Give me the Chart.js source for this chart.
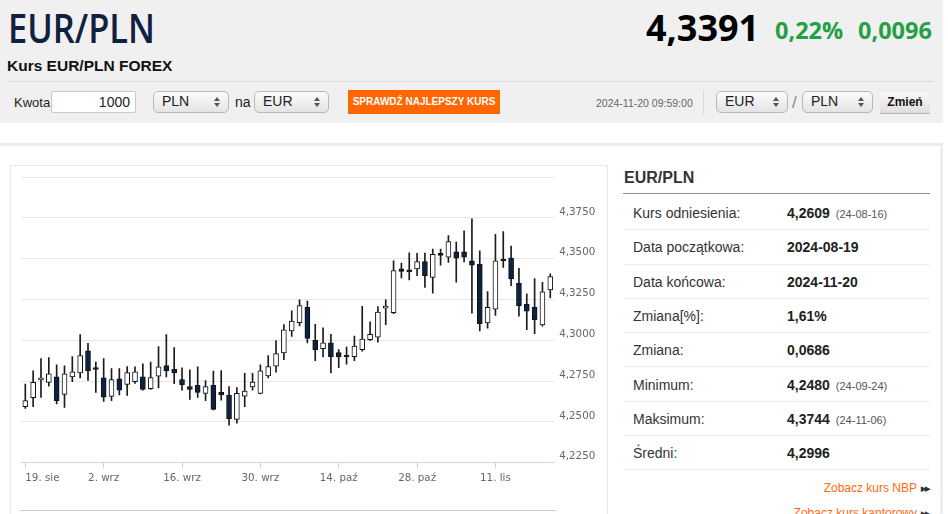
<!DOCTYPE html>
<html lang="pl">
<head>
<meta charset="utf-8">
<title>Kurs EUR/PLN FOREX</title>
<script src="https://cdn.jsdelivr.net/npm/chart.js@4.4.1/dist/chart.umd.min.js"></script>
<style>
  html, body { margin: 0; padding: 0; background: #fff; }
  body { width: 948px; height: 514px; overflow: hidden; position: relative; font-family: "Liberation Sans", Arial, sans-serif; color: #333; }
  .abs { position: absolute; white-space: nowrap; }
  #head { left: 0; top: 0; width: 943px; height: 123px; background: #f0f0f0; }
  .title { left: 8px; top: 8px; font: 600 40px/40px "Open Sans", sans-serif; color: #10213f; transform-origin: 0 0; transform: scaleX(0.86); }
  .price { top: 10px; font: 700 36px/36px "Open Sans", sans-serif; color: #000; }
  .chg { top: 19px; font: 700 23.5px/23.5px "Open Sans", sans-serif; color: #24a044; }
  .sub { left: 7px; top: 58px; font: bold 15.5px/15.5px "Liberation Sans", Arial, sans-serif; color: #111; }
  .hsep { left: 7px; top: 81px; width: 927px; height: 1px; background: #d9d9d9; }
  .lbl { font-size: 13px; line-height: 13px; color: #222; }
  .input { left: 51px; top: 91px; width: 85px; height: 22px; box-sizing: border-box; border: 1px solid #c9c9c9; border-radius: 2px; background: #fff; font-size: 14px; line-height: 20px; text-align: right; padding-right: 5px; color: #222; }
  .sel { top: 91px; height: 22px; box-sizing: border-box; border: 1px solid #b8b8b8; border-radius: 5px; background: linear-gradient(#fbfbfb, #e4e4e4); font-size: 14px; line-height: 19px; padding-left: 8px; color: #222; }
  .sel .up, .sel .dn { position: absolute; right: 8px; width: 0; height: 0; border-left: 3px solid transparent; border-right: 3px solid transparent; }
  .sel .up { top: 5px; border-bottom: 4px solid #555; }
  .sel .dn { top: 11px; border-top: 4px solid #555; }
  .btn { left: 348px; top: 90px; width: 152px; height: 24px; background: #ff6600; color: #fff; font: bold 10px/24px "Liberation Sans", Arial, sans-serif; text-align: center; }
  .stamp { left: 596px; top: 98px; font-size: 10.5px; line-height: 11px; color: #666; }
  .vsep { left: 703px; top: 90px; width: 1px; height: 25px; background: #dadada; }
  .zmien { left: 880px; top: 92px; width: 50px; height: 22px; box-sizing: border-box; background: linear-gradient(#f8f8f8, #dedede); border-bottom: 1px solid #b5b5b5; font: bold 12px/21px "Liberation Sans", Arial, sans-serif; text-align: center; color: #111; }
  .gline { left: 0; top: 143px; width: 943px; height: 3px; background: #ebebeb; }
  .rline { left: 940px; top: 146px; width: 3px; height: 368px; background: #efefef; }
  #box { left: 10px; top: 165px; width: 598px; height: 360px; box-sizing: border-box; border: 1px solid #e6e6e6; }
  #wrap { left: 11px; top: 166px; width: 596px; height: 348px; }
  .nav { left: 20px; top: 510px; width: 536px; height: 1px; background: #c8c8c8; }
  .ptitle { left: 624px; top: 170px; font: bold 16px/16px "Liberation Sans", Arial, sans-serif; color: #333; }
  .pline { left: 623px; top: 193px; width: 307px; height: 1px; background: #8f8f8f; }
  .row { left: 624px; width: 306px; height: 33.3px; border-bottom: 1px solid #ececec; font-size: 14px; line-height: 35px; }
  .row .k { position: absolute; left: 9px; color: #333; }
  .row .v { position: absolute; left: 163px; font-weight: bold; color: #222; }
  .row .v small { font-weight: normal; font-size: 11px; color: #555; margin-left: 6px; }
  .link { right: 19px; font-size: 12px; line-height: 12px; color: #ff6a13; }
  .link b { color: #333; font-size: 7px; letter-spacing: -1px; margin-left: 4px; vertical-align: 1px; }
</style>
</head>
<body>
<div id="head" class="abs"></div>
<div class="abs title">EUR/PLN</div>
<div class="abs price" style="left:646px">4,3391</div>
<div class="abs chg" style="left:775px">0,22%</div>
<div class="abs chg" style="left:858px">0,0096</div>
<div class="abs sub">Kurs EUR/PLN FOREX</div>
<div class="abs hsep"></div>

<div class="abs lbl" style="left:14px;top:96px">Kwota</div>
<div class="abs input">1000</div>
<div class="abs sel" style="left:153px;width:76px">PLN<span class="up"></span><span class="dn"></span></div>
<div class="abs lbl" style="left:235px;top:96px;font-size:14px">na</div>
<div class="abs sel" style="left:254px;width:75px">EUR<span class="up"></span><span class="dn"></span></div>
<div class="abs btn">SPRAWDŹ NAJLEPSZY KURS</div>
<div class="abs stamp">2024-11-20 09:59:00</div>
<div class="abs vsep"></div>
<div class="abs sel" style="left:716px;width:72px">EUR<span class="up"></span><span class="dn"></span></div>
<div class="abs" style="left:792px;top:93px;font-size:17px;line-height:20px;color:#888">/</div>
<div class="abs sel" style="left:802px;width:71px">PLN<span class="up"></span><span class="dn"></span></div>
<div class="abs zmien">Zmień</div>

<div class="abs gline"></div>
<div class="abs rline"></div>

<div id="box" class="abs"></div>
<div id="wrap" class="abs"><canvas id="candles"></canvas></div>
<div class="abs nav"></div>

<div class="abs ptitle">EUR/PLN</div>
<div class="abs pline"></div>
<div class="abs row" style="top:196px"><span class="k">Kurs odniesienia:</span><span class="v">4,2609<small>(24-08-16)</small></span></div>
<div class="abs row" style="top:230.3px"><span class="k">Data początkowa:</span><span class="v">2024-08-19</span></div>
<div class="abs row" style="top:264.6px"><span class="k">Data końcowa:</span><span class="v">2024-11-20</span></div>
<div class="abs row" style="top:298.9px"><span class="k">Zmiana[%]:</span><span class="v">1,61%</span></div>
<div class="abs row" style="top:333.2px"><span class="k">Zmiana:</span><span class="v">0,0686</span></div>
<div class="abs row" style="top:367.5px"><span class="k">Minimum:</span><span class="v">4,2480<small>(24-09-24)</small></span></div>
<div class="abs row" style="top:401.8px"><span class="k">Maksimum:</span><span class="v">4,3744<small>(24-11-06)</small></span></div>
<div class="abs row" style="top:436.1px"><span class="k">Średni:</span><span class="v">4,2996</span></div>
<div class="abs link" style="top:482px">Zobacz kurs NBP<b>▶▶</b></div>
<div class="abs link" style="top:507px">Zobacz kurs kantorowy<b>▶▶</b></div>

<script>
// trading days shown on the chart (weekdays, 19 Aug - 20 Nov 2024)
const dates = [
    '2024-08-19', '2024-08-20', '2024-08-21', '2024-08-22', '2024-08-23',
    '2024-08-26', '2024-08-27', '2024-08-28', '2024-08-29', '2024-08-30',
    '2024-09-02', '2024-09-03', '2024-09-04', '2024-09-05', '2024-09-06',
    '2024-09-09', '2024-09-10', '2024-09-11', '2024-09-12', '2024-09-13',
    '2024-09-16', '2024-09-17', '2024-09-18', '2024-09-19', '2024-09-20',
    '2024-09-23', '2024-09-24', '2024-09-25', '2024-09-26', '2024-09-27',
    '2024-09-30', '2024-10-01', '2024-10-02', '2024-10-03', '2024-10-04',
    '2024-10-07', '2024-10-08', '2024-10-09', '2024-10-10', '2024-10-11',
    '2024-10-14', '2024-10-15', '2024-10-16', '2024-10-17', '2024-10-18',
    '2024-10-21', '2024-10-22', '2024-10-23', '2024-10-24', '2024-10-25',
    '2024-10-28', '2024-10-29', '2024-10-30', '2024-10-31', '2024-11-01',
    '2024-11-04', '2024-11-05', '2024-11-06', '2024-11-07', '2024-11-08',
    '2024-11-11', '2024-11-12', '2024-11-13', '2024-11-14', '2024-11-15',
    '2024-11-18', '2024-11-19', '2024-11-20'
];
const monthNames = ['sty', 'lut', 'mar', 'kwi', 'maj', 'cze', 'lip', 'sie', 'wrz', 'paź', 'lis', 'gru'];

const opens = [
    4.2593, 4.2648, 4.2758, 4.2742, 4.2776, 4.2669, 4.2776, 4.2801, 4.2935, 4.2823,
    4.2770, 4.2656, 4.2764, 4.2730, 4.2746, 4.2776, 4.2703, 4.2780, 4.2846, 4.2823,
    4.2760, 4.2717, 4.2724, 4.2675, 4.2724, 4.2681, 4.2665, 4.2516, 4.2658, 4.2715,
    4.2675, 4.2782, 4.2841, 4.2923, 4.3057, 4.3108, 4.3203, 4.3000, 4.2949, 4.2984,
    4.2925, 4.2900, 4.2900, 4.2943, 4.3004, 4.3020, 4.3197, 4.3169, 4.3439, 4.3422,
    4.3437, 4.3482, 4.3386, 4.3533, 4.3510, 4.3543, 4.3543, 4.3488, 4.3468, 4.3106,
    4.3191, 4.3488, 4.3504, 4.3350, 4.3222, 4.3203, 4.3094, 4.3309
];
const highs = [
    4.2732, 4.2813, 4.2888, 4.2894, 4.2850, 4.2843, 4.2900, 4.3035, 4.2982, 4.2866,
    4.2888, 4.2827, 4.2827, 4.2839, 4.2837, 4.2856, 4.2866, 4.2961, 4.3035, 4.2955,
    4.2831, 4.2819, 4.2837, 4.2754, 4.2811, 4.2815, 4.2717, 4.2711, 4.2797, 4.2797,
    4.2850, 4.2906, 4.2998, 4.3096, 4.3181, 4.3248, 4.3240, 4.3098, 4.3077, 4.3037,
    4.2943, 4.2959, 4.3026, 4.3209, 4.3114, 4.3207, 4.3248, 4.3488, 4.3474, 4.3537,
    4.3533, 4.3535, 4.3559, 4.3559, 4.3642, 4.3602, 4.3671, 4.3744, 4.3549, 4.3299,
    4.3649, 4.3667, 4.3577, 4.3441, 4.3285, 4.3378, 4.3356, 4.3407
];
const lows = [
    4.2583, 4.2593, 4.2650, 4.2719, 4.2610, 4.2589, 4.2746, 4.2770, 4.2754, 4.2681,
    4.2626, 4.2630, 4.2665, 4.2663, 4.2736, 4.2695, 4.2699, 4.2709, 4.2776, 4.2734,
    4.2695, 4.2638, 4.2650, 4.2630, 4.2573, 4.2634, 4.2480, 4.2492, 4.2593, 4.2695,
    4.2672, 4.2770, 4.2805, 4.2882, 4.3024, 4.3089, 4.2984, 4.2876, 4.2898, 4.2801,
    4.2833, 4.2854, 4.2876, 4.2933, 4.3000, 4.2988, 4.3096, 4.3163, 4.3382, 4.3370,
    4.3396, 4.3325, 4.3289, 4.3461, 4.3478, 4.3356, 4.3480, 4.3167, 4.3057, 4.3075,
    4.3152, 4.3447, 4.3335, 4.3148, 4.3065, 4.3041, 4.3087, 4.3260
];
const closes = [
    4.2630, 4.2742, 4.2760, 4.2795, 4.2630, 4.2795, 4.2807, 4.2906, 4.2813, 4.2821,
    4.2652, 4.2760, 4.2695, 4.2803, 4.2807, 4.2699, 4.2772, 4.2837, 4.2813, 4.2801,
    4.2728, 4.2699, 4.2681, 4.2717, 4.2577, 4.2665, 4.2520, 4.2675, 4.2689, 4.2744,
    4.2813, 4.2839, 4.2919, 4.3065, 4.3118, 4.3213, 4.3012, 4.2943, 4.2984, 4.2900,
    4.2898, 4.2898, 4.2965, 4.3008, 4.3037, 4.3173, 4.3199, 4.3427, 4.3423, 4.3420,
    4.3482, 4.3396, 4.3527, 4.3520, 4.3606, 4.3504, 4.3510, 4.3461, 4.3102, 4.3203,
    4.3488, 4.3486, 4.3376, 4.3213, 4.3179, 4.3126, 4.3297, 4.3391
];

// labelled x ticks: every second Monday
const tickEvery = 10;

function dayLabel(d) {
    return `${Number(d.slice(8, 10))}. ${monthNames[Number(d.slice(5, 7)) - 1]}`;
}

const axisFont = { family: '"DejaVu Sans", Verdana, sans-serif', size: 10.3 };

new Chart(document.getElementById('candles').getContext('2d'), {
    type: 'bar',
    data: {
        labels: dates,
        datasets: [
            {
                label: 'High-Low',
                data: lows.map((l, i) => [l, highs[i]]),
                backgroundColor: '#1c1c1c',
                barThickness: 1,
                grouped: false,
                order: 2
            },
            {
                label: 'Open-Close',
                data: opens.map((o, i) => [o, closes[i]]),
                backgroundColor: opens.map((o, i) => (closes[i] >= o ? '#ffffff' : '#0b2342')),
                borderColor: '#111111',
                borderWidth: 1,
                borderSkipped: false,
                barThickness: 5,
                minBarLength: 2,
                grouped: false,
                order: 1
            }
        ]
    },
    options: {
        responsive: true,
        maintainAspectRatio: false,
        animation: false,
        layout: { padding: { left: 10.4, top: 8.3, right: 0, bottom: 29.3 } },
        plugins: { legend: { display: false }, tooltip: { enabled: false } },
        scales: {
            x: {
                offset: true,
                grid: {
                    drawOnChartArea: false,
                    drawTicks: true,
                    tickLength: 6,
                    offset: false,
                    color: (c) => (c.index % tickEvery === 0 ? '#ccd6eb' : 'rgba(0,0,0,0)')
                },
                border: { color: '#ccd6eb' },
                ticks: {
                    autoSkip: false,
                    maxRotation: 0,
                    align: 'inner',
                    padding: 3,
                    color: '#666',
                    font: axisFont,
                    callback: (v, i) => (i % tickEvery === 0 ? dayLabel(dates[i]) : '')
                },
                afterFit: (s) => { s.height = 22; }
            },
            y: {
                position: 'right',
                min: 4.225,
                max: 4.4,
                grid: { color: '#e6e6e6', drawTicks: false },
                border: { display: false },
                ticks: {
                    stepSize: 0.025,
                    padding: 5,
                    labelOffset: -6,
                    color: '#666',
                    font: axisFont,
                    callback: (v) => (v > 4.399 ? '' : v.toFixed(4).replace('.', ','))
                },
                afterFit: (s) => { s.width = 52.8; }
            }
        }
    }
});
</script>
</body>
</html>
